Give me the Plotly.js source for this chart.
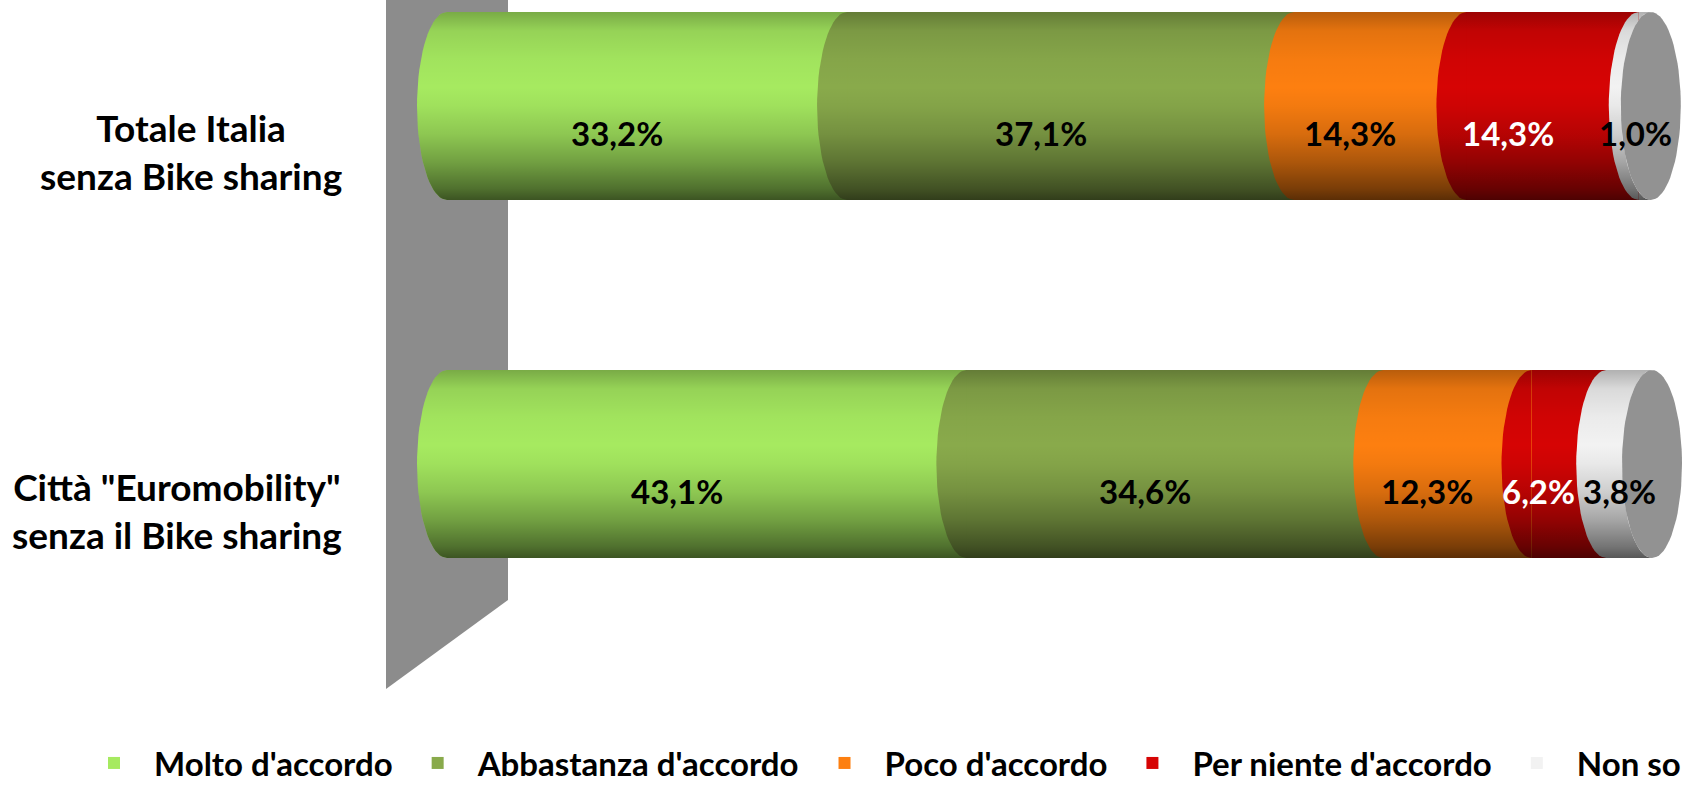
<!DOCTYPE html>
<html><head><meta charset="utf-8">
<script src="https://cdn.plot.ly/plotly-3.0.1.min.js"></script>
<style>html,body{margin:0;padding:0;background:#fff;}#chart{width:1694px;height:786px;}</style>
</head><body><div id="chart"></div>
<script>
// ---- data ----
const categories = ['Totale Italia<br>senza Bike sharing', 'Città "Euromobility"<br>senza il Bike sharing'];
const seriesNames = ["Molto d'accordo", "Abbastanza d'accordo", "Poco d'accordo", "Per niente d'accordo", "Non so"];
const molto = [33.2, 43.1];
const abbastanza = [37.1, 34.6];
const poco = [14.3, 12.3];
const perNiente = [14.3, 6.2];
const nonSo = [1.0, 3.8];
const series = [molto, abbastanza, poco, perNiente, nonSo];

// ---- style ----
const W = 1694, H = 786;
const colors = ['#a6ea60', '#89aa4b', '#fd7f10', '#d60404', '#f2f2f2'];
const labelColors = ['#000', '#000', '#000', '#fff', '#000'];
const labelNudge = [[0, 0, 0, -15, 21], [0, 0, 0, 0, 20]];
const BAR_W = 0.525;
const PX0 = 447, PXSCALE = 12.05;            // pixel of value 0, px per unit
const xr = [-PX0 / PXSCALE, (W - PX0) / PXSCALE];
const PLOT_H = 700;
const yr = [1.659, -0.296];
const A_PX = 30;
const aData = A_PX * (xr[1] - xr[0]) / W;
const bData = BAR_W / 2;
const WALL_HALF = 61 * (xr[1] - xr[0]) / W;
const font = 'Lato, "Open Sans", sans-serif';

const rows = categories.map((c, i) => i);

function halfEllipse(cx, cy, n) {
  const xs = [], ys = [];
  for (let i = 0; i <= n; i++) {
    const t = -Math.PI / 2 + Math.PI * i / n;
    xs.push(cx - aData * Math.cos(t));
    ys.push(cy + bData * Math.sin(t));
  }
  return [xs, ys];
}

const traces = [];
// bars
series.forEach((vals, s) => {
  traces.push({
    type: 'bar', orientation: 'h', name: seriesNames[s],
    y: rows, x: vals, width: BAR_W,
    marker: {color: colors[s], line: {width: 0}},
    hoverinfo: 'x+name'
  });
});

// elliptic left edges of each segment + value labels
const annotations = [];
rows.forEach(r => {
  let cum = 0;
  series.forEach((vals, s) => {
    const v = vals[r];
    const [xs, ys] = halfEllipse(cum, r, 40);
    traces.push({type: 'scatter', mode: 'lines', x: xs, y: ys, fill: 'toself',
      fillcolor: colors[s], line: {width: 0, color: colors[s]}, showlegend: false, hoverinfo: 'skip'});
    annotations.push({
      x: cum + v / 2, y: r, xref: 'x', yref: 'y', showarrow: false,
      text: v.toFixed(1).replace('.', ',') + '%',
      xshift: -A_PX + labelNudge[r][s], yshift: -27,
      font: {family: font, size: 33, weight: 700, color: labelColors[s]}
    });
    cum += v;
  });
});

// cylinder shading overlay + far end cap
rows.forEach(r => {
  const total = series.reduce((a, vals) => a + vals[r], 0);
  const [lx, ly] = halfEllipse(0, r, 40);
  const [rx, ry] = halfEllipse(total, r, 40);
  const xs = lx.concat(rx.slice().reverse());
  const ys = ly.concat(ry.slice().reverse());
  traces.push({type: 'scatter', mode: 'lines', x: xs, y: ys, fill: 'toself',
    line: {width: 0, color: 'rgba(0,0,0,0)'}, showlegend: false, hoverinfo: 'skip',
    fillgradient: {type: 'vertical', start: r + bData, stop: r - bData,
      colorscale: [[0, 'rgba(0,0,0,0.64)'], [0.06, 'rgba(0,0,0,0.52)'], [0.2, 'rgba(0,0,0,0.32)'],
        [0.35, 'rgba(0,0,0,0.15)'], [0.5, 'rgba(0,0,0,0.04)'], [0.6, 'rgba(0,0,0,0)'],
        [0.75, 'rgba(0,0,0,0.03)'], [0.9, 'rgba(0,0,0,0.1)'], [1, 'rgba(0,0,0,0.27)']]}
  });
  const ex = [], ey = [];
  for (let i = 0; i <= 80; i++) {
    const t = 2 * Math.PI * i / 80;
    ex.push(total + aData * Math.cos(t));
    ey.push(r + bData * Math.sin(t));
  }
  traces.push({type: 'scatter', mode: 'lines', x: ex, y: ey, fill: 'toself',
    fillcolor: '#929292', line: {width: 0, color: '#929292'}, showlegend: false, hoverinfo: 'skip'});
});

// category labels
categories.forEach((c, r) => {
  annotations.push({
    x: 344 / W, xref: 'paper', xanchor: 'right', y: r, yref: 'y', yanchor: 'middle',
    yshift: -46, align: 'center', showarrow: false, text: c,
    font: {family: font, size: 37, weight: 700, color: '#000'}
  });
});

const layout = {
  width: W, height: H,
  margin: {l: 0, r: 0, t: 0, b: H - PLOT_H, autoexpand: false},
  paper_bgcolor: '#fff', plot_bgcolor: '#fff',
  barmode: 'stack',
  xaxis: {range: xr, visible: false, fixedrange: true},
  yaxis: {range: yr, visible: false, fixedrange: true},
  showlegend: true,
  legend: {orientation: 'h', x: 74 / W, xanchor: 'left', y: -(763 - PLOT_H) / PLOT_H, yanchor: 'middle',
    traceorder: 'normal', itemwidth: 70, bgcolor: 'rgba(0,0,0,0)',
    font: {family: font, size: 33, weight: 700, color: '#000'}},
  shapes: [{type: 'path', xref: 'x', yref: 'paper', layer: 'below',
    path: `M ${-WALL_HALF},1.02 L ${WALL_HALF},1.02 L ${WALL_HALF},${1 - 600 / PLOT_H} L ${-WALL_HALF},${1 - 689 / PLOT_H} Z`,
    fillcolor: '#8c8c8c', line: {width: 0}}],
  annotations: annotations
};

Plotly.newPlot('chart', traces, layout, {displayModeBar: false, staticPlot: true});
</script>
</body></html>
